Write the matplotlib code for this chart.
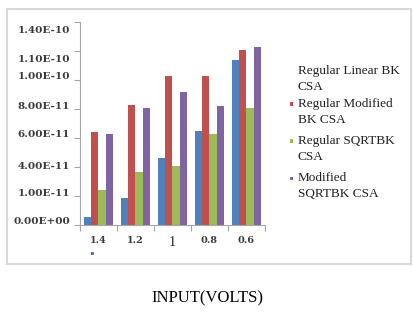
import matplotlib
matplotlib.use("Agg")
import matplotlib.pyplot as plt
import numpy as np
from matplotlib.patches import Rectangle

categories = ["1.4", "1.2", "1", "0.8", "0.6"]
series_names = ["Regular Linear BK\nCSA", "Regular Modified\nBK CSA",
                "Regular SQRTBK\nCSA", "Modified\nSQRTBK CSA"]
linear_bk = [0.57e-11, 1.86e-11, 4.6e-11, 6.5e-11, 11.4e-11]
modified_bk = [6.4e-11, 8.3e-11, 10.3e-11, 10.3e-11, 12.1e-11]
sqrt_bk = [2.4e-11, 3.66e-11, 4.1e-11, 6.3e-11, 8.1e-11]
modified_sqrt_bk = [6.3e-11, 8.1e-11, 9.2e-11, 8.2e-11, 12.3e-11]
ytick_values = [0, 2e-11, 4e-11, 6e-11, 8e-11, 10e-11, 12e-11, 14e-11]
ytick_labels = ["0.00E+00", "1.00E-11", "4.00E-11", "6.00E-11",
                "8.00E-11", "1.00E-10", "1.10E-10", "1.40E-10"]
colors = ["#4F81BD", "#C0504D", "#9BBB59", "#8064A2"]

W, H = 414, 316
fig = plt.figure(figsize=(W / 100, H / 100), dpi=100)
serif = ["Liberation Serif", "DejaVu Serif"]
wide = ["DejaVu Serif"]

# chart border
fig.add_artist(Rectangle((7 / W, 1 - 264 / H), 404 / W, 255 / H, transform=fig.transFigure,
                         fill=False, edgecolor="#D9D9D9", linewidth=1.5))

ax = fig.add_axes([80 / W, 1 - 225 / H, 185 / W, 203 / H])
x = np.arange(len(categories))
bw = 0.19
data = [linear_bk, modified_bk, sqrt_bk, modified_sqrt_bk]
for i, (vals, c) in enumerate(zip(data, colors)):
    ax.bar(x + (i - 1.5) * bw, vals, width=bw, color=c, edgecolor="none")

ax.set_xlim(-0.5, len(categories) - 0.5)
ax.set_ylim(0, 14e-11)
for s in ["top", "right"]:
    ax.spines[s].set_visible(False)
for s in ["left", "bottom"]:
    ax.spines[s].set_color("#A6A6A6")
    ax.spines[s].set_linewidth(0.8)

# y ticks
ax.set_yticks(ytick_values)
ax.set_yticklabels([])
ax.tick_params(axis="y", which="major", length=4, color="#A6A6A6", width=0.8)
label_pos = [0.028e-10, 0.221e-10, 0.407e-10, 0.628e-10, 0.821e-10, 1.028e-10, 1.145e-10, 1.345e-10]
ax.set_yticks(label_pos, minor=True)
ax.set_yticklabels(ytick_labels, minor=True, fontfamily=wide, fontsize=7.5, fontweight="bold",
                   color="#3A3A3A")
ax.tick_params(axis="y", which="minor", length=0, pad=7)

# x ticks
ax.set_xticks(np.arange(len(categories) + 1) - 0.5)
ax.set_xticklabels([])
ax.tick_params(axis="x", which="major", length=4, color="#A6A6A6", width=0.8)
ax.set_xticks(x, minor=True)
ax.set_xticklabels(categories, minor=True, fontfamily=wide, fontsize=7, fontweight="bold",
                   color="#3A3A3A")
ax.tick_params(axis="x", which="minor", length=0, pad=8)
for lbl in ax.get_xticklabels(minor=True):
    if lbl.get_text() == "1":
        lbl.set_fontsize(10)
        lbl.set_fontweight("normal")
        lbl.set_fontfamily(serif)
        lbl.set_color("#202020")

# stray blue marker under first category
fig.add_artist(Rectangle((91 / W, 1 - 255 / H), 3 / W, 3 / H, transform=fig.transFigure,
                         facecolor=colors[0], edgecolor="none"))

# legend (manual)
leg_y = [65, 98, 135, 172]
for i, (name, c) in enumerate(zip(series_names, colors)):
    fig.text(298 / W, 1 - leg_y[i] / H, name, fontfamily=serif, fontsize=9.5,
             va="top", ha="left", color="#202020", linespacing=1.45)
    if i > 0:
        fig.add_artist(Rectangle((290 / W, 1 - (leg_y[i] + 7.5) / H), 3 / W, 3 / H,
                                 transform=fig.transFigure, facecolor=c, edgecolor="none"))

fig.text(207 / W, 1 - 298 / H, "INPUT(VOLTS)", fontfamily=serif, fontsize=12,
         ha="center", va="center", color="#000000")

fig.savefig("out.png", dpi=100)
